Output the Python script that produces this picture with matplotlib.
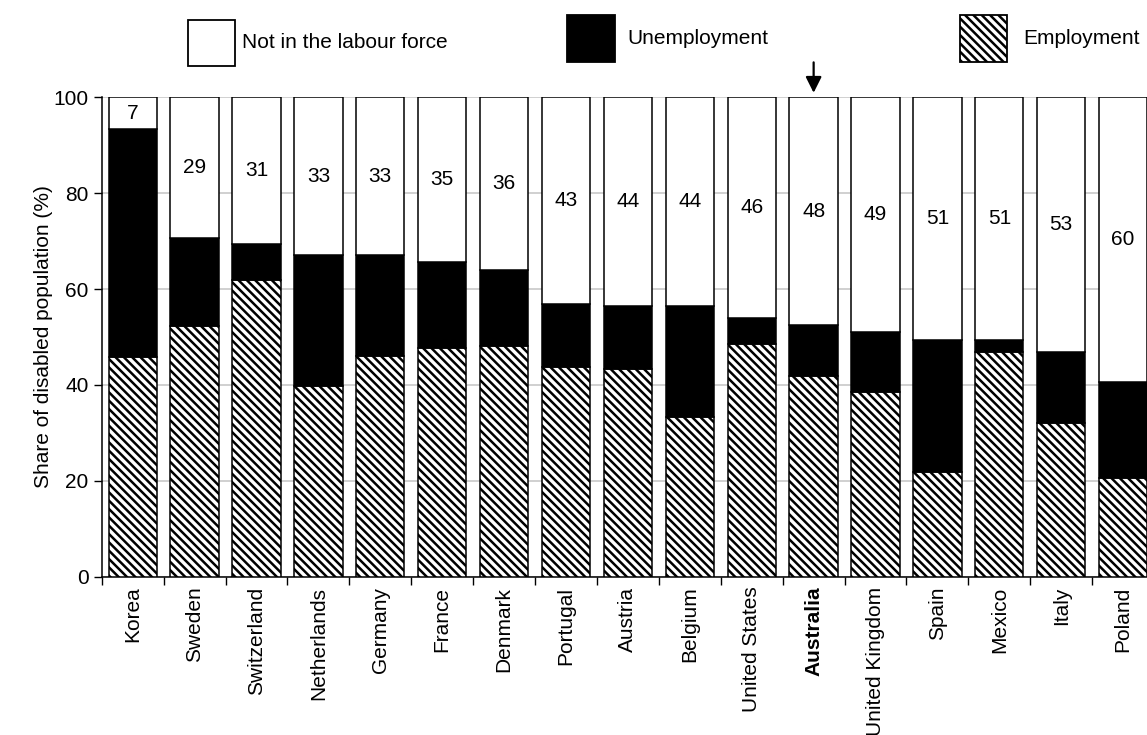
import matplotlib
matplotlib.use("Agg")
import matplotlib.pyplot as plt
from matplotlib.patches import Rectangle
import numpy as np

plt.rcParams['font.family'] = ['Liberation Sans', 'DejaVu Sans']
plt.rcParams['hatch.linewidth'] = 1.8

# データ
countries = ["Korea", "Sweden", "Switzerland", "Netherlands", "Germany", "France",
             "Denmark", "Portugal", "Austria", "Belgium", "United States", "Australia",
             "United Kingdom", "Spain", "Mexico", "Italy", "Poland"]
employment   = [45.8, 52.3, 61.9, 39.8, 46.0, 47.8, 48.2, 43.7, 43.3, 33.3, 48.6, 41.9,
                38.5, 21.9, 46.9, 32.0, 20.7]
unemployment = [47.5, 18.4, 7.5, 27.2, 21.0, 17.9, 15.8, 13.2, 13.2, 23.2, 5.4, 10.5,
                12.5, 27.5, 2.5, 14.8, 19.9]
not_in_lf_labels = [7, 29, 31, 33, 33, 35, 36, 43, 44, 44, 46, 48, 49, 51, 51, 53, 60]
highlight = "Australia"

emp = np.array(employment)
unemp = np.array(unemployment)
nilf = 100 - emp - unemp
x = np.arange(len(countries))

fs = 15
hatch = "\\" * 4

fig = plt.figure(figsize=(11.47, 7.35), dpi=100)
# 右端はキャンバスから少しはみ出す
ax = fig.add_axes([0.0887, 0.2150, 0.9175, 0.6530])

w = 0.78
ax.bar(x, emp, w, color="white", edgecolor="black", hatch=hatch, linewidth=1.1, zorder=3)
ax.bar(x, unemp, w, bottom=emp, color="black", edgecolor="black", linewidth=1.1, zorder=3)
ax.bar(x, nilf, w, bottom=emp + unemp, color="white", edgecolor="black", linewidth=1.1, zorder=3)

for i in range(len(countries)):
    ax.text(x[i], emp[i] + unemp[i] + nilf[i] / 2, str(not_in_lf_labels[i]),
            ha="center", va="center", fontsize=fs, zorder=4)

ax.set_xlim(-0.5, len(countries) - 0.5)
ax.set_ylim(0, 100)
ax.set_yticks([0, 20, 40, 60, 80, 100])
ax.yaxis.grid(True, color="#c8c8c8", linewidth=1.2, zorder=0)
ax.set_axisbelow(True)

# 目盛りはカテゴリの境界に
ax.set_xticks(np.arange(-0.5, len(countries), 1.0))
ax.set_xticklabels([])
ax.set_xticks(x, minor=True)
ax.set_xticklabels(countries, minor=True, rotation=90, fontsize=fs)
ax.tick_params(axis="x", which="minor", length=0, pad=7)
ax.tick_params(axis="x", which="major", length=6, width=1, direction="out")
ax.tick_params(axis="y", length=6, width=1, direction="out", labelsize=fs)
for lbl in ax.get_xticklabels(minor=True):
    if lbl.get_text() == highlight:
        lbl.set_fontweight("bold")

ax.spines["top"].set_visible(False)
ax.spines["right"].set_visible(False)
ax.spines["left"].set_linewidth(1.1)
ax.spines["bottom"].set_linewidth(1.1)
ax.set_ylabel("Share of disabled population (%)", fontsize=fs, labelpad=0)

# Australia の矢印
hx = countries.index(highlight)
ax.annotate("", xy=(hx, 100.3), xytext=(hx, 107.8), annotation_clip=False,
            arrowprops=dict(arrowstyle="-|>", color="black", lw=1.6, mutation_scale=24))

# 凡例
fig.add_artist(Rectangle((0.1639, 0.910), 0.041, 0.0626, transform=fig.transFigure,
                         facecolor="white", edgecolor="black", linewidth=1.3))
fig.text(0.211, 0.9415, "Not in the labour force", fontsize=fs, va="center")
fig.add_artist(Rectangle((0.4943, 0.9156), 0.0418, 0.064, transform=fig.transFigure,
                         facecolor="black", edgecolor="black", linewidth=1.3))
fig.text(0.5466, 0.948, "Unemployment", fontsize=fs, va="center")
fig.add_artist(Rectangle((0.837, 0.9156), 0.041, 0.064, transform=fig.transFigure,
                         facecolor="white", edgecolor="black", hatch=hatch, linewidth=1.3))
fig.text(0.892, 0.948, "Employment", fontsize=fs, va="center")

fig.savefig("out.png", dpi=100)
